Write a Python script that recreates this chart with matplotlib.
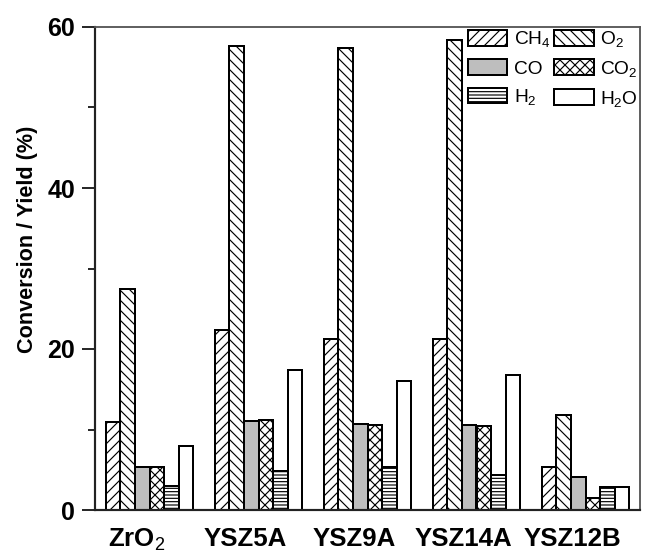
import matplotlib
matplotlib.use("Agg")
import matplotlib.pyplot as plt
import numpy as np

categories = ["ZrO$_2$", "YSZ5A", "YSZ9A", "YSZ14A", "YSZ12B"]
series_names = ["CH$_4$", "O$_2$", "CO", "CO$_2$", "H$_2$", "H$_2$O"]
ch4 = [10.9, 22.3, 21.3, 21.2, 5.4]
o2 = [27.4, 57.6, 57.4, 58.4, 11.8]
co = [5.4, 11.0, 10.7, 10.6, 4.1]
co2 = [5.4, 11.2, 10.6, 10.4, 1.5]
h2 = [3.0, 4.9, 5.4, 4.4, 2.9]
h2o = [8.0, 17.4, 16.0, 16.8, 2.9]
yticks = [0, 20, 40, 60]

plt.rcParams['font.family'] = ['Liberation Sans', 'DejaVu Sans']
plt.rcParams['mathtext.fontset'] = 'custom'
plt.rcParams['mathtext.rm'] = 'Liberation Sans'
plt.rcParams['mathtext.it'] = 'Liberation Sans:italic'
plt.rcParams['mathtext.bf'] = 'Liberation Sans:bold'
plt.rcParams['hatch.linewidth'] = 0.7

DPI = 120
fig = plt.figure(figsize=(649 / DPI, 558 / DPI), dpi=DPI)
ax = fig.add_axes([95 / 649, 48 / 558, 545 / 649, 483 / 558])

series = [ch4, o2, co, co2, h2, h2o]
faces = ['white', 'white', '#bebebe', 'white', 'white', 'white']
hatches = ['////', '\\\\\\\\', None, 'xxxx', '------', None]
w = 0.134
x = np.arange(len(categories))
bars = []
for i, (vals, fc, h, name) in enumerate(zip(series, faces, hatches, series_names)):
    b = ax.bar(x + (i - 2.5) * w, vals, width=w, facecolor=fc, edgecolor='black',
               hatch=h, linewidth=1.2, label=name)
    bars.append(b)

ax.set_xlim(-0.5, 4.5)
ax.set_ylim(0, 60)
ax.set_yticks(yticks)
ax.set_yticks([10, 30, 50], minor=True)
ax.set_yticklabels([str(v) for v in yticks], fontsize=15, fontweight='bold')
ax.set_xticks(x - 0.12)
ax.set_xticklabels(categories, fontsize=15.5, fontweight='bold')
ax.tick_params(axis='x', length=0, pad=10)
ax.tick_params(axis='y', which='major', direction='out', length=8, width=1, pad=4)
ax.tick_params(axis='y', which='minor', direction='out', length=4, width=1)

for s in ['left', 'bottom']:
    ax.spines[s].set_linewidth(1.3)
    ax.spines[s].set_color('#222222')
for s in ['top', 'right']:
    ax.spines[s].set_linewidth(1.1)
    ax.spines[s].set_color('#555555')

ax.set_ylabel("Conversion / Yield (%)", fontsize=13, fontweight='bold')
ax.yaxis.set_label_coords(-0.105, 0.56)

# row-major legend order: (CH4, O2), (CO, CO2), (H2, H2O)
order = [0, 2, 4, 1, 3, 5]
leg = ax.legend([bars[k] for k in order], [series_names[k] for k in order],
                ncol=2, loc='upper left',
                bbox_to_anchor=(0.684, 0.995), frameon=False, fontsize=11.5,
                handlelength=2.05, handleheight=0.9, handletextpad=0.35,
                columnspacing=0.2, labelspacing=0.5, borderpad=0, borderaxespad=0)

fig.savefig("out.png", dpi=DPI)
